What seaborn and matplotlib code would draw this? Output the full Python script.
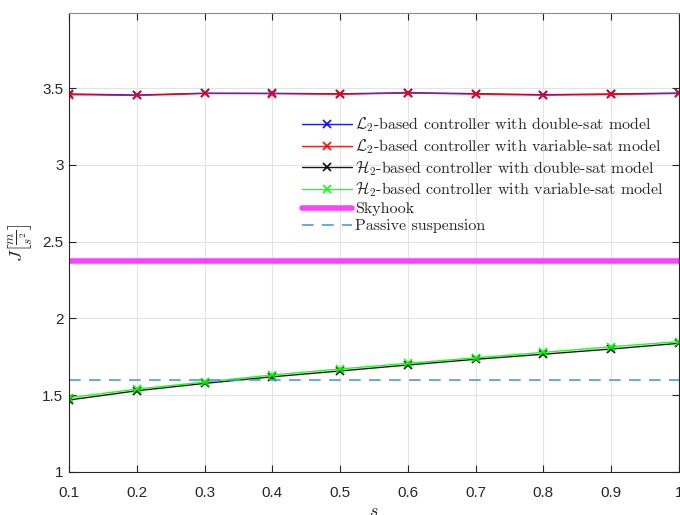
import numpy as np
import pandas as pd
import matplotlib
matplotlib.use("Agg")
import matplotlib.pyplot as plt
import seaborn as sns

# values
s_vals = [0.1, 0.2, 0.3, 0.4, 0.5, 0.6, 0.7, 0.8, 0.9, 1.0]
l2_double = [3.462, 3.455, 3.467, 3.466, 3.463, 3.470, 3.464, 3.457, 3.462, 3.468]
l2_variable = [3.458, 3.452, 3.465, 3.464, 3.460, 3.468, 3.461, 3.454, 3.459, 3.465]
h2_double = [1.469, 1.529, 1.577, 1.620, 1.658, 1.697, 1.734, 1.767, 1.801, 1.838]
h2_variable = [1.484, 1.540, 1.586, 1.632, 1.671, 1.708, 1.744, 1.779, 1.816, 1.849]
skyhook = 2.375
passive = 1.6

labels = [r"$\mathcal{L}_2$-based controller with double-sat model",
          r"$\mathcal{L}_2$-based controller with variable-sat model",
          r"$\mathcal{H}_2$-based controller with double-sat model",
          r"$\mathcal{H}_2$-based controller with variable-sat model",
          "Skyhook", "Passive suspension"]

sns.set_style("ticks")
plt.rcParams["font.family"] = ["Liberation Sans", "DejaVu Sans"]
plt.rcParams["mathtext.fontset"] = "cm"

fig = plt.figure(figsize=(6.8, 5.15), dpi=100)
ax = fig.add_axes([0.1015, 0.0835, 0.897, 0.8915])

df = pd.DataFrame({"s": s_vals, "l2d": l2_double, "l2v": l2_variable,
                   "h2d": h2_double, "h2v": h2_variable})

series = [("l2d", "#0000ff"), ("l2v", "#ff0000"), ("h2d", "#000000"), ("h2v", "#00ff00")]
for (col, c), lab in zip(series, labels[:4]):
    sns.lineplot(data=df, x="s", y=col, ax=ax, color=c, marker="x", markersize=6,
                 markeredgewidth=1.3, markeredgecolor=c, linewidth=1.0,
                 label=lab, alpha=0.9)

ax.axhline(skyhook, color="#ff40ff", linewidth=4, label=labels[4])
ax.axhline(passive, color="#4a9be0", linewidth=1.2, linestyle=(0, (7, 5)), label=labels[5])

ax.set_xlim(0.1, 1.0)
ax.set_ylim(1, 3.99)
ax.set_xticks(s_vals)
ax.set_xticklabels(["0.1", "0.2", "0.3", "0.4", "0.5", "0.6", "0.7", "0.8", "0.9", "1"])
ax.set_yticks([1, 1.5, 2, 2.5, 3, 3.5])
ax.set_yticklabels(["1", "1.5", "2", "2.5", "3", "3.5"])
ax.grid(True, color="#e3e3e3", linewidth=0.8)
ax.tick_params(direction="in", length=5, labelsize=11, colors="#262626",
               top=True, right=True)
ax.tick_params(axis="x", pad=10)
ax.tick_params(axis="y", pad=4)
for sp in ax.spines.values():
    sp.set_color("#262626")
    sp.set_linewidth(0.8)
ax.spines["top"].set_color("#8c8c8c")

ax.set_xlabel(r"$s$", fontsize=13, labelpad=2)
ax.set_ylabel(r"$J\left[\frac{m}{s^2}\right]$", fontsize=13.5, labelpad=6)

leg = ax.legend(loc="upper left", bbox_to_anchor=(0.372, 0.79), frameon=False,
                prop={"family": "cmr10", "size": 11.5}, handlelength=3.1,
                handletextpad=0.2, labelspacing=0.18, borderaxespad=0)

fig.savefig("out.png", dpi=100)
